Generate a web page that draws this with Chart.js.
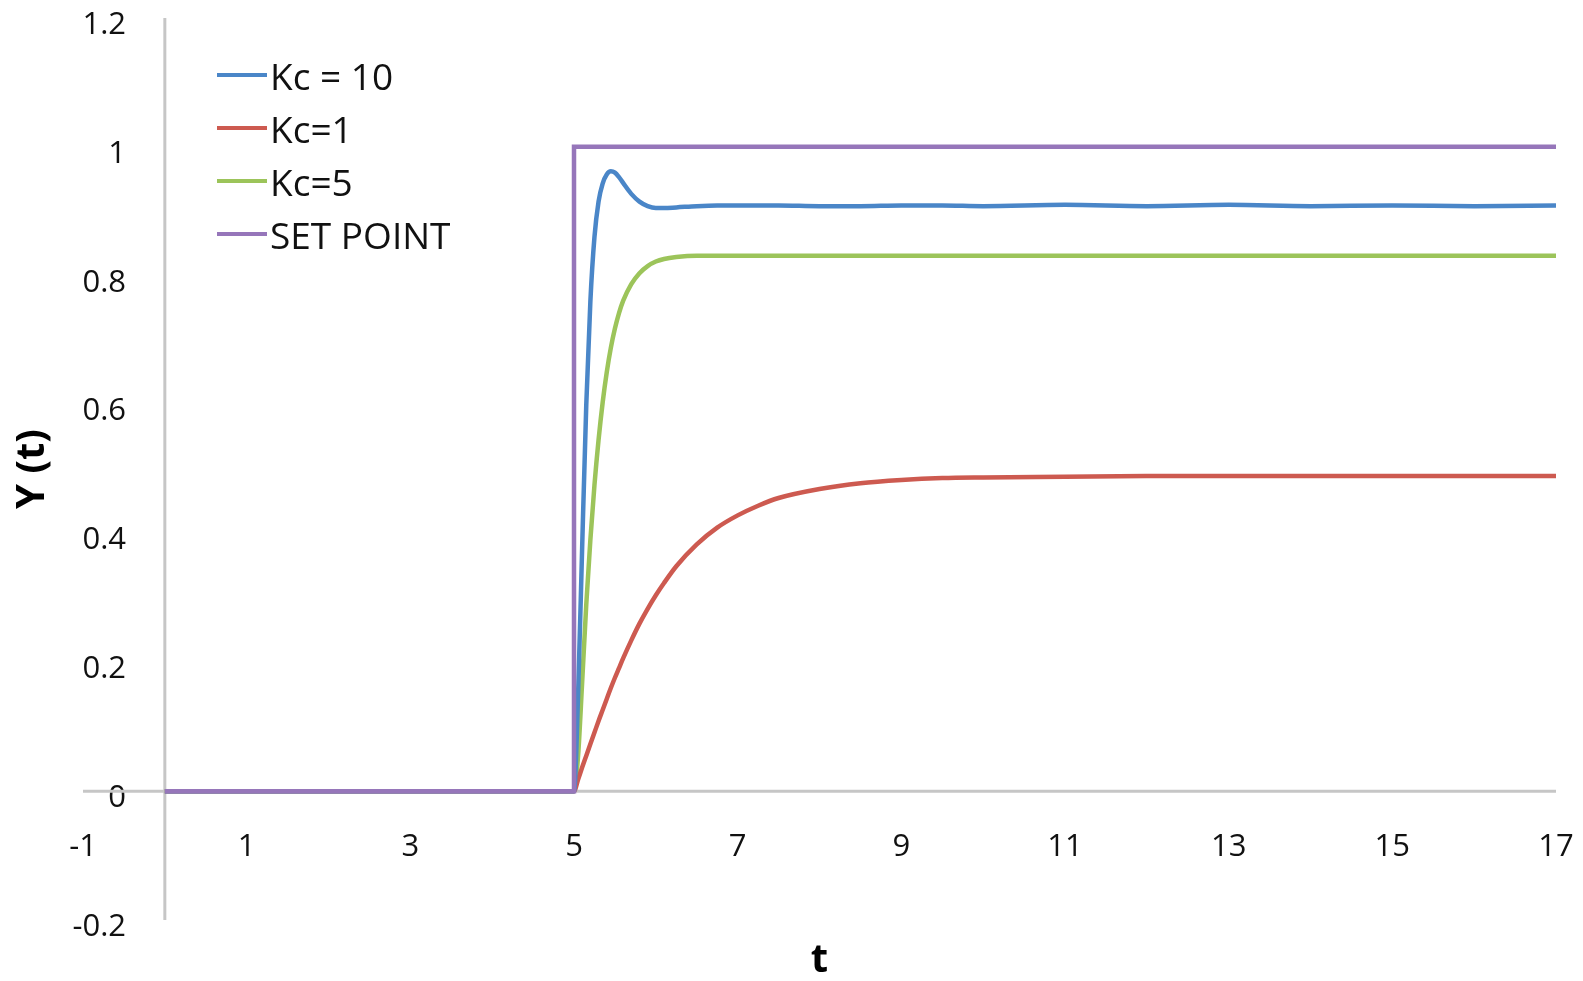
<!DOCTYPE html>
<html>
<head>
<meta charset="utf-8">
<script src="https://cdn.jsdelivr.net/npm/chart.js@4.4.1/dist/chart.umd.min.js"></script>
<style>
  html, body { margin: 0; padding: 0; background: #fff; }
  #wrap { width: 1583px; height: 981px; }
</style>
</head>
<body>
<div id="wrap"><canvas id="myChart"></canvas></div>
<script>
// time samples shared by the three responses
const times = [0, 5, 5.05, 5.1, 5.15, 5.2, 5.25, 5.3, 5.35, 5.4, 5.45, 5.5, 5.55, 5.6,
  5.7, 5.8, 5.9, 6, 6.1, 6.25, 6.5, 6.75, 7, 7.25, 7.5, 8, 8.5, 9, 9.5, 10,
  11, 12, 13, 14, 15, 16, 17];

const kc10 = [0, 0, 0.15, 0.38, 0.6, 0.76, 0.86, 0.915, 0.943, 0.957, 0.962, 0.96, 0.953, 0.944,
  0.927, 0.915, 0.908, 0.905, 0.905, 0.906, 0.908, 0.909, 0.909, 0.909, 0.909, 0.908, 0.908, 0.909, 0.909, 0.908,
  0.91, 0.908, 0.91, 0.908, 0.909, 0.908, 0.909];

const kc1 = [0, 0, 0.018, 0.037, 0.055, 0.073, 0.091, 0.109, 0.126, 0.143, 0.16, 0.176, 0.191, 0.206,
  0.234, 0.26, 0.283, 0.304, 0.323, 0.349, 0.383, 0.409, 0.428, 0.443, 0.455, 0.469, 0.478, 0.483, 0.486, 0.487,
  0.488, 0.489, 0.489, 0.489, 0.489, 0.489, 0.489];

const kc5 = [0, 0, 0.055, 0.17, 0.29, 0.39, 0.475, 0.545, 0.603, 0.65, 0.688, 0.718, 0.742, 0.761,
  0.787, 0.804, 0.815, 0.822, 0.826, 0.829, 0.831, 0.831, 0.831, 0.831, 0.831, 0.831, 0.831, 0.831, 0.831, 0.831,
  0.831, 0.831, 0.831, 0.831, 0.831, 0.831, 0.831];

const setPointT = [0, 5, 5, 17];
const setPointY = [0, 0, 1, 1];

const xTicks = [-1, 1, 3, 5, 7, 9, 11, 13, 15, 17];
const yTicks = [-0.2, 0, 0.2, 0.4, 0.6, 0.8, 1, 1.2];

const pts = (xs, ys) => xs.map((x, i) => ({ x: x, y: ys[i] }));

// y labels sit right-aligned inside the plot, so measure the widest one
const tickFont = '31px "Open Sans"';
const meas = document.createElement('canvas').getContext('2d');
meas.font = tickFont;
const widestY = Math.max(...yTicks.map(v => meas.measureText(String(v)).width));

// x = 0 and y = 0 axis lines, excel style
const zeroAxes = {
  id: 'zeroAxes',
  beforeDatasetsDraw(chart) {
    const { ctx, chartArea: a, scales } = chart;
    const x0 = scales.x.getPixelForValue(0);
    const y0 = scales.y.getPixelForValue(0);
    ctx.save();
    ctx.strokeStyle = '#c6c6c6';
    ctx.lineWidth = 3;
    ctx.beginPath();
    ctx.moveTo(a.left, y0); ctx.lineTo(a.right, y0);
    ctx.moveTo(x0, a.top); ctx.lineTo(x0, a.bottom);
    ctx.stroke();
    ctx.restore();
  }
};

// legend inside the plot, line right next to the text
const innerLegend = {
  id: 'innerLegend',
  afterDraw(chart) {
    const { ctx, chartArea: a } = chart;
    const left = a.left + 134;
    ctx.save();
    ctx.font = '37px "Open Sans"';
    ctx.textBaseline = 'middle';
    ctx.textAlign = 'left';
    chart.data.datasets.forEach((ds, i) => {
      const yy = a.top + 57 + i * 53;
      ctx.strokeStyle = ds.borderColor;
      ctx.lineWidth = 4;
      ctx.beginPath();
      ctx.moveTo(left, yy);
      ctx.lineTo(left + 50, yy);
      ctx.stroke();
      ctx.fillStyle = '#111';
      ctx.fillText(ds.label, left + 53, yy + 4);
    });
    ctx.restore();
  }
};

const data = {
  datasets: [
    { label: 'Kc = 10', data: pts(times, kc10), borderColor: '#4a86c8', cubicInterpolationMode: 'monotone' },
    { label: 'Kc=1', data: pts(times, kc1), borderColor: '#cd5a50', cubicInterpolationMode: 'monotone' },
    { label: 'Kc=5', data: pts(times, kc5), borderColor: '#9cc45a', cubicInterpolationMode: 'monotone' },
    { label: 'SET POINT', data: pts(setPointT, setPointY), borderColor: '#9676ba', order: -1 }
  ]
};
data.datasets.forEach(ds => {
  ds.borderWidth = 4.5;
  ds.pointRadius = 0;
  ds.fill = false;
});

// fixed box sizes so the plot area lands where it should
const fixBox = (w, h) => s => {
  if (w) s.width = w;
  if (h) s.height = h;
  s.paddingLeft = s.paddingRight = s.paddingTop = s.paddingBottom = 0;
};

const config = {
  type: 'line',
  data: data,
  options: {
    responsive: true,
    maintainAspectRatio: false,
    animation: false,
    layout: { padding: { top: 18, right: 27, left: 0, bottom: 0 } },
    plugins: { legend: { display: false }, tooltip: { enabled: false } },
    scales: {
      x: {
        type: 'linear',
        min: -1,
        max: 17,
        afterBuildTicks: s => { s.ticks = xTicks.map(v => ({ value: v })); },
        afterFit: fixBox(0, 61),
        grid: { display: false, drawTicks: false },
        border: { display: false },
        ticks: {
          autoSkip: false,
          maxRotation: 0,
          mirror: true,
          padding: 54,
          color: '#111',
          font: { family: 'Open Sans', size: 31 },
          callback: v => String(v)
        },
        title: {
          display: true,
          text: 't',
          color: '#000',
          font: { family: 'Open Sans', size: 40, weight: 'bold' },
          padding: { top: 0, bottom: -4 }
        }
      },
      y: {
        min: -0.2,
        max: 1.2,
        afterBuildTicks: s => { s.ticks = yTicks.map(v => ({ value: v })); },
        afterFit: fixBox(83, 0),
        grid: { display: false, drawTicks: false },
        border: { display: false },
        ticks: {
          mirror: true,
          crossAlign: 'far',
          padding: 43 - widestY,
          labelOffset: 7,
          color: '#111',
          font: { family: 'Open Sans', size: 31 },
          callback: v => String(v)
        },
        title: {
          display: true,
          text: 'Y (t)',
          color: '#000',
          font: { family: 'Open Sans', size: 40, weight: 'bold' },
          padding: { top: 9, bottom: 0 }
        }
      }
    }
  },
  plugins: [zeroAxes, innerLegend]
};

const myChart = new Chart(document.getElementById('myChart'), config);
</script>
</body>
</html>
